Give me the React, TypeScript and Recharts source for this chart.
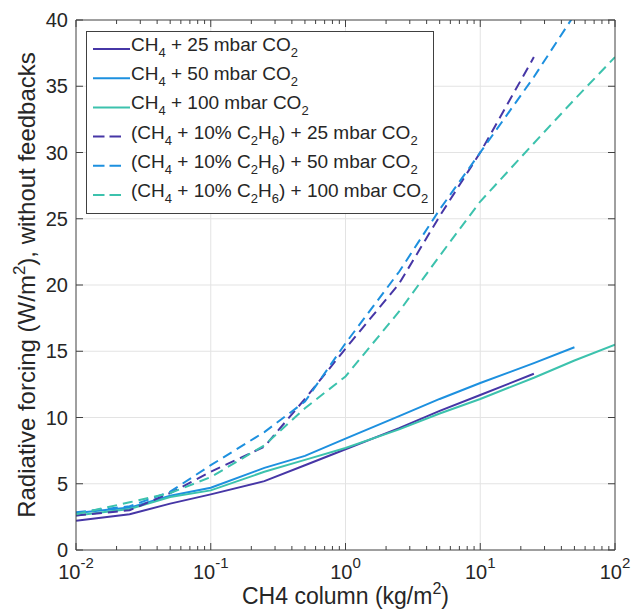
import React from "react";
import { LineChart, Line, XAxis, YAxis, ReferenceLine, Label } from "recharts";

// CH4 column (kg/m2) sample points
const columns = [0.01, 0.025, 0.05, 0.1, 0.25, 0.5, 1, 2.5, 5, 10, 25, 50, 100];

// radiative forcing, W/m2 (pure CH4)
const ch4Co2_25 = [2.2, 2.7, 3.5, 4.2, 5.2, 6.4, 7.6, 9.2, 10.5, 11.7, 13.3];
const ch4Co2_50 = [2.8, 3.2, 4.1, 4.7, 6.2, 7.1, 8.4, 10.1, 11.4, 12.6, 14.1, 15.3];
const ch4Co2_100 = [2.6, 3.1, 4.0, 4.5, 5.9, 6.8, 7.7, 9.1, 10.3, 11.4, 13.0, 14.3, 15.5];

// CH4 + 10% C2H6
const ethCo2_25 = [2.6, 3.0, 4.3, 5.9, 7.8, 11.4, 15.2, 20.1, 25.2, 30.0, 37.2];
const ethCo2_50 = [2.85, 3.3, 4.4, 6.4, 8.9, 11.2, 15.6, 21.0, 25.7, 30.0, 35.7, 40.4];
const ethCo2_100 = [2.7, 3.6, 4.3, 5.5, 7.9, 10.7, 13.1, 18.0, 22.2, 26.3, 30.7, 34.0, 37.2];

const xMajor = [0.01, 0.1, 1, 10, 100];
const xExponents = ["-2", "-1", "0", "1", "2"];
const yTicks = [0, 5, 10, 15, 20, 25, 30, 35, 40];

const purple = "#4636a6";
const blue = "#1d90df";
const teal = "#3cc2ad";
const axisColor = "#404040";
const textColor = "#262626";
const font = "'Liberation Sans', Arial, Helvetica, sans-serif";

const xMinor: number[] = [];
xMajor.slice(0, 4).forEach((d) => {
  for (let k = 2; k <= 9; k++) xMinor.push(+(d * k).toPrecision(3));
});
const xAll = [...xMajor, ...xMinor].sort((a, b) => a - b);

const pair = (vals: number[]) => vals.map((y, i) => ({ x: columns[i], y }));

const series = [
  { name: "CH_4 + 25 mbar CO_2", color: purple, dash: false, vals: ch4Co2_25 },
  { name: "CH_4 + 50 mbar CO_2", color: blue, dash: false, vals: ch4Co2_50 },
  { name: "CH_4 + 100 mbar CO_2", color: teal, dash: false, vals: ch4Co2_100 },
  { name: "(CH_4 + 10% C_2H_6) + 25 mbar CO_2", color: purple, dash: true, vals: ethCo2_25 },
  { name: "(CH_4 + 10% C_2H_6) + 50 mbar CO_2", color: blue, dash: true, vals: ethCo2_50 },
  { name: "(CH_4 + 10% C_2H_6) + 100 mbar CO_2", color: teal, dash: true, vals: ethCo2_100 },
];

const DASH = "10 6";

function isMajor(v: number) {
  return xMajor.some((m) => Math.abs(m - v) / m < 1e-6);
}

const BottomTick = (props: any) => {
  const { x, y, payload } = props;
  const v = payload.value;
  const major = isMajor(v);
  const idx = xMajor.findIndex((m) => Math.abs(m - v) / m < 1e-6);
  return (
    <g>
      <line x1={x} x2={x} y1={y} y2={y - (major ? 7 : 4)} stroke={axisColor} />
      {major && (
        <text x={x} y={y + 29} textAnchor="middle" fontSize={20} fill={textColor} fontFamily={font}>
          10
          <tspan dy={-11} fontSize={15}>{xExponents[idx]}</tspan>
        </text>
      )}
    </g>
  );
};

const TopTick = (props: any) => {
  const { x, y, payload } = props;
  const major = isMajor(payload.value);
  return <line x1={x} x2={x} y1={y} y2={y + (major ? 7 : 4)} stroke={axisColor} />;
};

const LeftTick = (props: any) => {
  const { x, y, payload } = props;
  return (
    <g>
      <line x1={x} x2={x + 7} y1={y} y2={y} stroke={axisColor} />
      <text x={x - 8} y={y + 7} textAnchor="end" fontSize={20} fill={textColor} fontFamily={font}>
        {payload.value}
      </text>
    </g>
  );
};

const RightTick = (props: any) => {
  const { x, y } = props;
  return <line x1={x} x2={x - 7} y1={y} y2={y} stroke={axisColor} />;
};

function subText(label: string) {
  const parts = label.split(/_(\d)/);
  const out: React.ReactNode[] = [];
  let shifted = false;
  parts.forEach((p, i) => {
    if (p === "") return;
    const sub = i % 2 === 1;
    let dy = 0;
    if (sub && !shifted) {
      dy = 6;
      shifted = true;
    } else if (!sub && shifted) {
      dy = -6;
      shifted = false;
    }
    out.push(
      <tspan key={i} dy={dy} fontSize={sub ? 13 : 19}>
        {p}
      </tspan>
    );
  });
  return out;
}

const LegendBox = () => (
  <div
    style={{
      position: "absolute",
      left: 86,
      top: 31,
      width: 346,
      height: 181,
      border: `1px solid ${axisColor}`,
      background: "#fff",
    }}
  >
    <svg width={346} height={181}>
      {series.map((s, i) => {
        const ly = 17 + i * 29.2;
        return (
          <g key={s.name}>
            <line
              x1={6}
              x2={s.dash ? 34 : 43}
              y1={ly}
              y2={ly}
              stroke={s.color}
              strokeWidth={2}
              strokeDasharray={s.dash ? "11.5 5" : undefined}
            />
            <text x={44} y={ly + 2} fill={textColor} fontFamily={font} fontSize={19}>
              {subText(s.name)}
            </text>
          </g>
        );
      })}
    </svg>
  </div>
);

const XTitle = (props: any) => {
  const vb = props.viewBox;
  const cx = vb.x + vb.width / 2;
  return (
    <text x={cx} y={vb.y + 54} textAnchor="middle" fontSize={23} fill={textColor} fontFamily={font}>
      CH4 column (kg/m<tspan dy={-10} fontSize={16}>2</tspan>
      <tspan dy={10}>)</tspan>
    </text>
  );
};

const YTitle = (props: any) => {
  const vb = props.viewBox;
  const cy = vb.y + vb.height / 2;
  const cx = 35;
  return (
    <text
      x={cx}
      y={cy}
      transform={`rotate(-90 ${cx} ${cy})`}
      textAnchor="middle"
      fontSize={24}
      fill={textColor}
      fontFamily={font}
    >
      Radiative forcing (W/m<tspan dy={-10} fontSize={17}>2</tspan>
      <tspan dy={10}>), without feedbacks</tspan>
    </text>
  );
};

export default function App() {
  return (
    <div style={{ position: "absolute", left: 0, top: 0, width: 634, height: 613, background: "#fff" }}>
      <LineChart width={634} height={613} margin={{ top: 19, right: 18, bottom: 0, left: 0 }}>
        <XAxis
          xAxisId="b"
          dataKey="x"
          type="number"
          scale="log"
          domain={[0.01, 100]}
          allowDataOverflow
          ticks={xAll}
          interval={0}
          tick={<BottomTick />}
          tickLine={false}
          tickSize={0}
          tickMargin={0}
          height={63}
          axisLine={{ stroke: axisColor }}
        >
          <Label content={<XTitle />} />
        </XAxis>
        <XAxis
          xAxisId="t"
          orientation="top"
          dataKey="x"
          type="number"
          scale="log"
          domain={[0.01, 100]}
          allowDataOverflow
          ticks={xAll}
          interval={0}
          tick={<TopTick />}
          tickLine={false}
          tickSize={0}
          tickMargin={0}
          height={1}
          axisLine={{ stroke: axisColor }}
        />
        <YAxis
          yAxisId="l"
          type="number"
          domain={[0, 40]}
          allowDataOverflow
          ticks={yTicks}
          interval={0}
          tick={<LeftTick />}
          tickLine={false}
          tickSize={0}
          tickMargin={0}
          width={76}
          axisLine={{ stroke: axisColor }}
        >
          <Label content={<YTitle />} />
        </YAxis>
        <YAxis
          yAxisId="r"
          orientation="right"
          type="number"
          domain={[0, 40]}
          allowDataOverflow
          ticks={yTicks}
          interval={0}
          tick={<RightTick />}
          tickLine={false}
          tickSize={0}
          tickMargin={0}
          width={1}
          axisLine={{ stroke: axisColor }}
        />
        {xMajor.slice(1, 4).map((v) => (
          <ReferenceLine key={"gx" + v} x={v} xAxisId="b" yAxisId="l" stroke="#e3e3e3" />
        ))}
        {yTicks.slice(1, 8).map((v) => (
          <ReferenceLine key={"gy" + v} y={v} xAxisId="b" yAxisId="l" stroke="#e3e3e3" />
        ))}
        {series.map((s) => (
          <Line
            key={s.name}
            data={pair(s.vals)}
            dataKey="y"
            xAxisId="b"
            yAxisId="l"
            type="linear"
            stroke={s.color}
            strokeWidth={2}
            strokeDasharray={s.dash ? DASH : undefined}
            dot={false}
            activeDot={false}
            isAnimationActive={false}
          />
        ))}
      </LineChart>
      <LegendBox />
    </div>
  );
}
